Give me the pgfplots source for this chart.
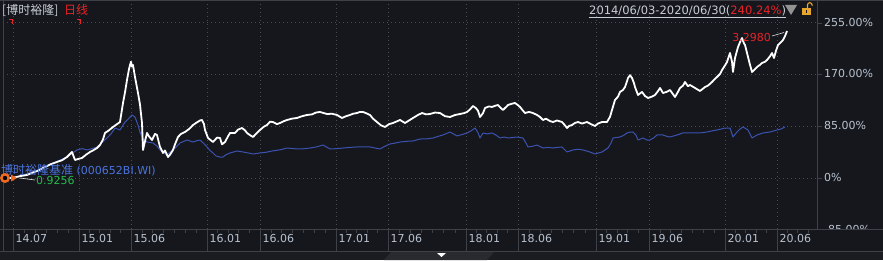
\documentclass[border=0pt]{standalone}
\usepackage{fontspec}
\setmainfont{DejaVu Sans}
\newfontfamily\cjk{Noto Sans CJK SC}
\usepackage{pgfplots}
\pgfplotsset{compat=1.18}
\definecolor{bg}{RGB}{21,23,28}
\definecolor{bandbg}{RGB}{26,28,33}
\definecolor{thumb}{RGB}{40,42,48}
\definecolor{framegray}{RGB}{62,65,72}
\definecolor{gridgray}{RGB}{72,75,82}
\definecolor{ticktext}{RGB}{185,195,208}
\definecolor{headgray}{RGB}{200,206,214}
\definecolor{wred}{RGB}{232,35,40}
\definecolor{blueline}{RGB}{60,82,175}
\definecolor{bluetext}{RGB}{75,115,220}
\definecolor{wgreen}{RGB}{40,185,75}
\definecolor{worange}{RGB}{240,105,30}
\definecolor{lockc}{RGB}{232,165,45}
\begin{document}
\begin{tikzpicture}[x=1pt,y=1pt,font=\fontsize{11}{13}\selectfont]
\useasboundingbox (0pt,0pt) rectangle (883pt,260pt);
\fill[bg] (0pt,0pt) rectangle (883pt,260pt);
\fill[bandbg] (0,0) rectangle (883,9);
\fill[thumb] (384,0) -- (392,9) -- (495,9) -- (487,0) -- cycle;
\begin{axis}[name=ax, at={(3pt,31pt)}, anchor=south west, scale only axis,
  width=814pt, height=227pt,
  xmin=3, xmax=817, ymin=-83.4, ymax=287.7,
  enlargelimits=false,
  axis line style={draw=none}, tick style={draw=none},
  /pgf/number format/assume math mode=true,
  xtick={13,79,131,207,260,336,388,466,518,596,649,725,777},
  xticklabels={14.07,15.01,15.06,16.01,16.06,17.01,17.06,18.01,18.06,19.01,19.06,20.01,20.06},
  ytick={0,85,170,255},
  yticklabels={0\%,85.00\%,170.00\%,255.00\%},
  yticklabel pos=right,
  xticklabel style={anchor=north west, inner sep=0pt, xshift=2.5pt, yshift=-5pt, text=ticktext, font=\fontsize{11}{11}\selectfont},
  yticklabel style={anchor=west, inner sep=0pt, xshift=7pt, text=ticktext, font=\fontsize{11}{11}\selectfont},
  grid=major,
  major grid style={gridgray, dash pattern=on 1pt off 3pt, line width=0.8pt},
]
\addplot[blueline, line width=1pt, line join=round] coordinates {
(5,0)(10,1)(17,1.6)(25,6)(33,10)(43,16.3)(50,22)(57,27)(67,34.3)(72,40)(77,45.8)(82,48)(87,45.8)(92,48)(97,50.7)(102,58)(107,65.4)(111,72)(115,81.7)(120,78.5)(125,91.5)(128,96)(132,103.0)(135,99.7)(138,86.6)(140,75)(142,67.0)(147,58.8)(153,57.2)(157,52)(160,45.8)(164,41)(167,37.6)(170,42)(173,45.8)(177,52)(180,57.2)(184,60)(187,62.1)(193,58.8)(197,61)(200,62.1)(204,56)(207,50.7)(210,45)(213,40.9)(216,36)(220,34.3)(223,34.3)(226,38)(230,40.9)(237,44.1)(243,42.5)(248,41)(253,39.2)(260,40.9)(266,42)(272,44.1)(280,46)(287,49.0)(293,48)(300,47.4)(305,48)(310,49.0)(317,51)(323,53.9)(330,47.4)(337,48)(343,49.0)(350,50)(357,50.7)(363,51)(370,50.7)(375,49)(380,47.4)(385,52)(390,55.6)(395,57)(400,58.8)(407,60)(413,60.5)(420,63.7)(427,64)(433,65.4)(438,68)(443,70.3)(450,75.2)(457,68.7)(462,71)(467,73.6)(471,77)(475,81.7)(478,74)(480,65.4)(483,73.6)(487,72)(492,73.6)(496,70)(500,65.4)(504,67)(508,65.4)(512,66)(517,67.0)(523,65.4)(526,57)(528,50.7)(533,52)(537,53.9)(543,49.0)(548,50)(553,49.0)(557,50)(562,50.7)(567,42.5)(573,45.8)(578,47)(583,45.8)(589,43)(595,39.2)(602,42.5)(608,49.0)(611,57)(613,65.4)(620,67.0)(624,70)(627,73.6)(630,75)(633,75.2)(636,70)(638,62.1)(643,65.4)(647,62)(650,62.1)(654,66)(657,70.3)(663,70.3)(667,68)(670,67.0)(677,70.3)(683,73.6)(690,73.6)(697,73.6)(702,74)(707,75.2)(712,77)(717,78.5)(721,80)(725,81.7)(730,81.7)(733,67.0)(737,75.2)(740,80)(743,83.4)(748,78.5)(752,65.4)(757,70.3)(763,73.6)(770,75.2)(777,78.5)(781,80)(785,83.4)
};
\addplot[white, line width=1.8pt, line join=round] coordinates {
(5,0)(10,0)(15,1)(20,3)(27,4.9)(33,9)(38,12)(43,16.3)(50,22)(57,26.2)(62,29)(67,34.3)(72,42.5)(75,29.4)(78,31)(82,32.7)(86,38)(90,42.5)(93,45)(97,49.0)(100,53.9)(103,63)(105,73.6)(109,78)(113,83.4)(117,88)(120,91.5)(123,122.6)(125,140)(127,160.2)(129,178)(130,184.7)(131,190)(132,182)(133,184.7)(135,165.1)(138,138.9)(140,120)(142,89.9)(143,45.8)(145,60)(147,73.6)(149,68)(152,62.1)(155,72)(157,70.3)(160,50.7)(163,40.9)(165,45)(168,34.3)(170,38)(173,45.8)(175,55)(178,67.0)(181,72)(185,75.2)(189,80)(193,86.6)(197,91)(200,94)(202,94.8)(204,88)(205,78.5)(208,65.4)(213,58.8)(217,66)(220,65.4)(222,55)(225,58.8)(228,68)(230,73.6)(235,73.6)(238,79)(242,81.7)(245,78)(247,73.6)(250,70)(253,67.0)(256,72)(260,78.5)(264,84)(267,86.6)(270,92)(273,91.5)(277,88)(280,89.9)(284,93)(287,94.8)(292,97)(297,98.1)(302,101)(307,103.0)(312,104)(316,107)(320,107.9)(324,106)(327,104.6)(332,105)(337,103.0)(342,98.1)(346,101)(350,103.0)(353,105)(357,106.2)(360,108)(363,107.9)(366,106)(370,103.0)(373,97)(377,91.5)(381,86)(385,83.4)(389,88)(393,89.9)(396,92)(400,94.8)(405,89.9)(409,94)(413,98.1)(418,103)(422,106.2)(426,104)(430,104.6)(435,107)(440,106.2)(445,101)(450,99.7)(455,103)(460,104.6)(464,106)(467,107.9)(470,112)(473,117.7)(476,114)(478,110)(480,99.7)(483,106)(485,114.4)(489,117)(492,116.1)(495,118)(498,119.3)(501,114)(503,111.2)(506,116)(508,119.3)(511,121)(515,122.6)(518,119)(520,116.1)(523,110)(525,106.2)(529,108)(533,106.2)(537,103)(540,99.7)(543,94.8)(546,97)(550,93)(553,91.5)(557,94)(562,91.5)(565,86)(567,81.7)(569,85)(572,86.6)(575,90)(578,91.5)(582,89)(587,91.5)(591,88)(595,85.0)(598,89)(602,91.5)(607,91.5)(610,100)(612,111.2)(615,127.5)(618,133)(620,140.6)(623,144)(625,148.7)(627,158)(628,163.5)(630,168)(632,163.5)(634,155)(635,148.7)(638,135.7)(642,140.6)(645,134)(648,130.8)(652,133)(655,135.7)(658,142)(660,147.1)(663,138.9)(667,141)(670,143.8)(673,137)(675,132.4)(678,141)(680,147.1)(683,151)(685,156.9)(688,150)(690,152.0)(695,147.1)(700,142.2)(705,148.7)(708,151)(712,156.9)(715,162)(717,165.1)(720,170)(722,176.5)(725,184)(727,189.6)(730,204.3)(732,190)(733,173.3)(734,185)(735,196.2)(738,214.1)(740,222)(742,228.8)(744,220)(745,217.4)(748,197.8)(750,185)(752,173.3)(755,178)(757,181.4)(760,185)(762,188.0)(765,190)(767,192.9)(770,199)(772,204.3)(774,196.2)(776,208)(778,217.4)(781,222)(783,225.6)(785,232)(787,240.2)
};
\end{axis}
% -85% label, partially hidden
\node[anchor=west, inner sep=0pt, text=ticktext, font=\fontsize{11}{11}\selectfont] at (824,31) {-85.00\%};
\fill[bg] (817.5,9.5) rectangle (883,30.6);
% frame
\begin{scope}[framegray, line width=0.8pt]
\draw (817,31) -- (817,260);
\draw (3,9) -- (3,260);
\draw (0,31) -- (883,31);
\draw (0,9) -- (883,9);
\draw (0,259.6) -- (883,259.6);
\foreach \t in {13,79,131,207,260,336,388,466,518,596,649,725,777} \draw (\t,31) -- (\t,9);
\foreach \t in {24,35,46,57,68,89.4,99.8,110.2,120.6,141.9,152.7,163.6,174.4,185.3,196.1,217.6,228.2,238.8,249.4,270.9,281.7,292.6,303.4,314.3,325.1,346.4,356.8,367.2,377.6,399.1,410.3,421.4,432.6,443.7,454.9,476.4,486.8,497.2,507.6,529.1,540.3,551.4,562.6,573.7,584.9,606.6,617.2,627.8,638.4,659.9,670.7,681.6,692.4,703.3,714.1,735.4,745.8,756.2,766.6,787.4,797.8,808.2} \draw (\t,31) -- (\t,27.5);
\foreach \y in {237,186,134,82} \draw (817,\y) -- (822,\y);
\end{scope}
\fill[white] (437,7) -- (446,7) -- (441.5,3) -- cycle;
% header
\node[anchor=west, inner sep=0pt, text=headgray, font=\cjk\fontsize{12}{14}\selectfont] at (2,250) {[博时裕隆]};
\node[anchor=west, inner sep=0pt, text=wred, font=\cjk\fontsize{12}{14}\selectfont] at (64,250) {日线};
\node[anchor=west, inner sep=0pt, font=\fontsize{11.5}{13}\selectfont] (d) at (589,249.5) {\textcolor{headgray}{2014/06/03-2020/06/30(}\textcolor{wred}{240.24\%}\textcolor{headgray}{)}};
\draw[headgray, line width=0.7pt] ([yshift=-1.5pt]d.south west) -- ([yshift=-1.5pt]d.south east);
\fill[gray!85] (785,255) -- (797,255) -- (791,245) -- cycle;
\fill[lockc] (802,245) rectangle (811,252);
\fill[bg] (806,247) rectangle (807,250);
\draw[lockc, line width=1.1pt] (807.5,252) -- (807.5,255) arc (180:0:2.3) -- (812.1,254);
% red corner marks
\draw[wred, line width=1.3pt] (9,240.5) -- (12.5,240.5) -- (12.5,235.5);
\draw[wred, line width=1.3pt] (77,240.5) -- (80.5,240.5) -- (80.5,235.5);
% annotations
\node[anchor=west, inner sep=0pt, text=bluetext] at (1,90) {{\cjk\fontsize{12}{14}\selectfont 博时裕隆基准} (000652BI.WI)};
\draw[white!80!gray, line width=0.6pt] (20,82) -- (35,80);
\node[anchor=west, inner sep=0pt, text=wgreen] at (36,79.5) {0.9256};
\fill[worange] (5,82) circle (5);
\fill[black] (5,82) circle (2.2);
\fill[worange] (11,78.5) -- (11,85.5) -- (17,82) -- cycle;
\node[anchor=east, inner sep=0pt, text=wred] at (771,223) {3.2980};
\draw[white!75!gray, line width=0.6pt] (772,224) -- (784,227.5);
\end{tikzpicture}
\end{document}
